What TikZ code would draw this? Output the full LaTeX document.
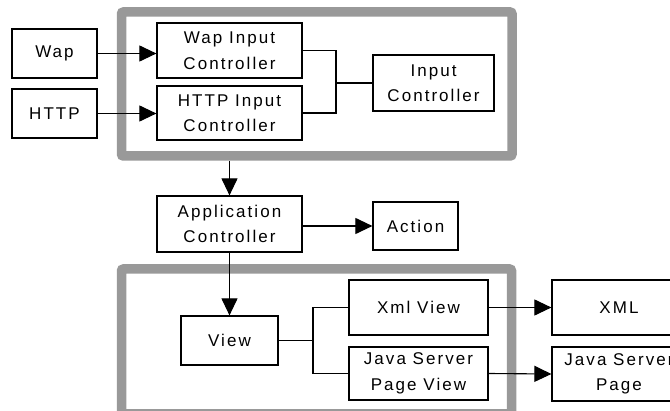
\documentclass[tikz,border=0pt]{standalone}
\usepackage{fontspec}
\setmainfont{Liberation Sans}[LetterSpace=12]
\usetikzlibrary{arrows.meta}
\begin{document}
\begin{tikzpicture}[x=1pt,y=-1pt,
  box/.style={draw=black,line width=1.2pt,fill=white,inner sep=0pt,align=center,
    font=\fontsize{17}{25.5}\selectfont},
  frame/.style={draw=black!40,line width=9.5pt,rounded corners=2pt},
  link/.style={draw=black,line width=1.1pt},
  flow/.style={link,-{Triangle[length=17pt,width=16pt]}}]
\useasboundingbox (0,0) rectangle (670,411);
\clip (0,0) rectangle (670,411);
\fill[white] (0,0) rectangle (670,411);

% grouping frames
\draw[frame] (121.5,12) rectangle (512,156);
\draw[frame] (121.5,269) rectangle (511.5,414);

% input side
\node[box,minimum width=85pt,minimum height=49pt] (wap) at (54.5,53.5) {Wap};
\node[box,minimum width=85pt,minimum height=49pt] (http) at (54.5,113.5) {HTTP};
\node[box,minimum width=145pt,minimum height=55pt] (wic) at (229.5,50.5) {Wap Input\\Controller};
\node[box,minimum width=145pt,minimum height=54pt] (hic) at (229.5,113) {HTTP Input\\Controller};
\node[box,minimum width=121pt,minimum height=56pt] (ic) at (433.5,83) {Input\\Controller};

% application layer
\node[box,minimum width=145pt,minimum height=56pt] (appc) at (229.5,224) {Application\\Controller};
\node[box,minimum width=85pt,minimum height=48pt] (action) at (415.5,226) {Action};

% view layer
\node[box,minimum width=97pt,minimum height=49pt] (view) at (229.5,340.5) {View};
\node[box,minimum width=139pt,minimum height=55pt] (xmlv) at (418.5,307.5) {Xml View};
\node[box,minimum width=139pt,minimum height=53pt] (jspv) at (418.5,373.5) {Java Server\\Page View};
\node[box,minimum width=134pt,minimum height=55pt] (xml) at (619,307.5) {XML};
\node[box,minimum width=134pt,minimum height=54pt] (jsp) at (619,374) {Java Server\\Page};

% junction points and frame exit
\coordinate (jin) at (336,83);
\coordinate (jview) at (313,340.5);
\coordinate (fexit) at (229.5,161);

% connectors
\draw[flow] (wap.east) -- (wap.east -| wic.west);
\draw[flow] (http.east) -- (http.east -| hic.west);
\draw[link] (wic.east) -| (jin) |- (hic.east);
\draw[link] (jin) -- (ic.west);
\draw[flow] (fexit) -- (appc.north);
\draw[flow] (appc.east |- action.west) -- (action.west);
\draw[flow] (appc.south) -- (view.north);
\draw[link] (view.east) -- (jview);
\draw[link] (xmlv.west) -| (jview) |- (jspv.west);
\draw[flow] (xmlv.east) -- (xml.west);
\draw[flow] (jspv.east) -- (jsp.west);
\end{tikzpicture}
\end{document}
